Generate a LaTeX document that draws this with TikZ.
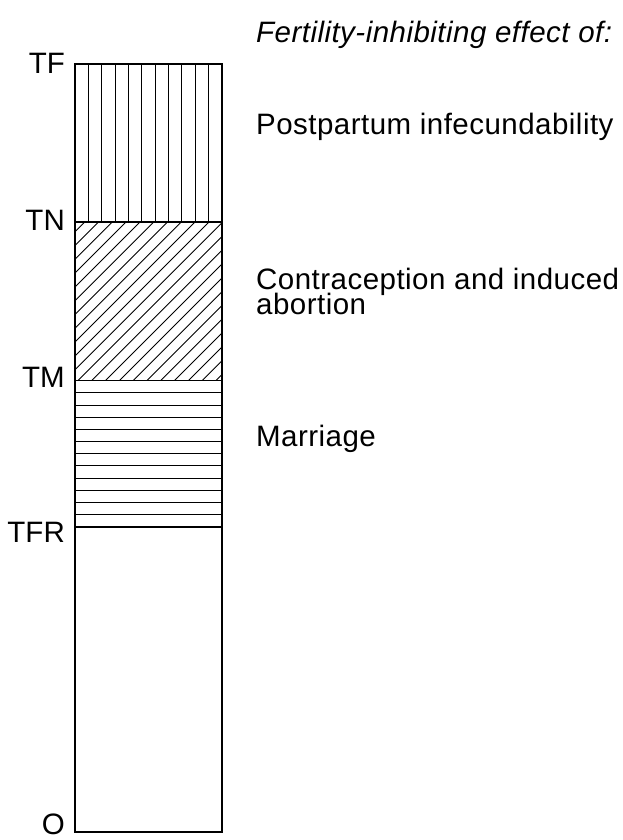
\documentclass[tikz,border=0pt]{standalone}
\usepackage{fontspec}
\setmainfont{Liberation Sans}
\newfontfamily\spacedfont[LetterSpace=1.6]{Liberation Sans}
\begin{document}
\begin{tikzpicture}[x=1pt,y=-1pt,
  lbl/.style={font=\fontsize{29.5}{29.5}\selectfont, inner sep=0pt, anchor=base east},
  txt/.style={font=\spacedfont\fontsize{29.5}{25}\selectfont, inner sep=0pt, anchor=base west, align=left},
  hatchline/.style={line width=1pt, black},
  outline/.style={line width=1.3pt, black}]
\lineskiplimit=-50pt
\useasboundingbox (0,0) rectangle (623,840);
% levels
\coordinate (tfL) at (75,64);    \coordinate (tfR) at (222,64);
\coordinate (tnL) at (75,222);   \coordinate (tnR) at (222,222);
\coordinate (tmL) at (75,380.7); \coordinate (tmR) at (222,380.7);
\coordinate (frL) at (75,526.7); \coordinate (frR) at (222,526.7);
\coordinate (oL) at (75,832);    \coordinate (oR) at (222,832);
% vertical hatch (postpartum infecundability)
\foreach \i in {1,...,10}
  \draw[hatchline] ({75+147/11*\i},64) -- ({75+147/11*\i},222);
% diagonal hatch (contraception and abortion)
\begin{scope}
  \clip (tnL) rectangle (tmR);
  \foreach \k in {0,...,21}
    \draw[hatchline, line width=0.9pt] ({306.7+13.8*\k-222},222) -- ({306.7+13.8*\k-380.7},380.7);
\end{scope}
% horizontal hatch (marriage)
\foreach \j in {1,...,11}
  \draw[hatchline] (75,{380.7+146/12*\j}) -- (222,{380.7+146/12*\j});
% level lines and outline
\draw[outline] (tnL) -- (tnR);
\draw[outline] (tmL) -- (tmR);
\draw[line width=2.2pt] (frL) -- (frR);
\draw[outline] (tfL) rectangle (oR);
% left labels
\node[lbl] (lTF)  at (65,74)  {TF};
\node[lbl] (lTN)  at (65,230) {TN};
\node[lbl] (lTM)  at (65,387) {TM};
\node[lbl] (lTFR) at (65,542) {TFR};
\node[lbl] (lO)   at (65,834.5) {O};
% right texts
\node[txt, font=\spacedfont\fontsize{29.5}{25}\selectfont\itshape] (head) at (256,43) {Fertility-inhibiting effect of:};
\node[txt] (pp)  at (256,135) {Postpartum infecundability};
\node[txt] (ca)  at (256,314) {Contraception and induced\\abortion};
\node[txt] (mar) at (256,446) {Marriage};
\end{tikzpicture}
\end{document}
